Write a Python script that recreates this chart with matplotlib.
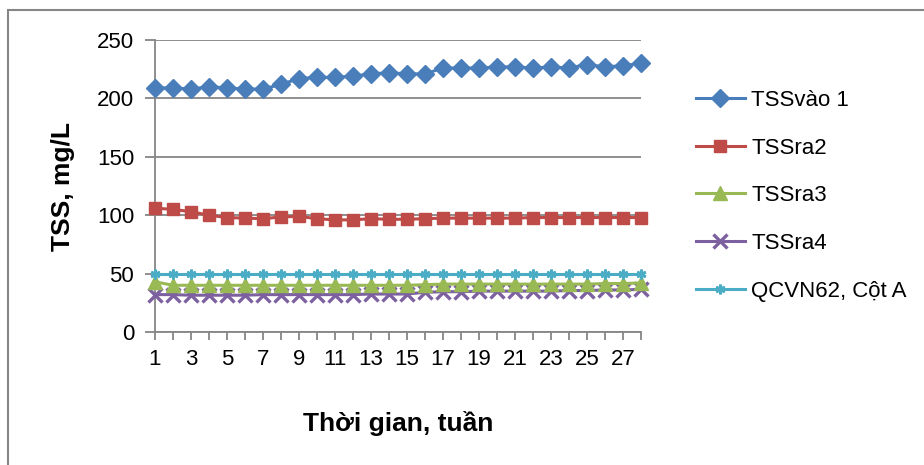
import matplotlib
matplotlib.use("Agg")
import matplotlib.pyplot as plt
from matplotlib.patches import Rectangle

plt.rcParams['font.family'] = ['Liberation Sans', 'DejaVu Sans']

weeks = list(range(1, 29))
tss_in = [209, 209, 208, 210, 209, 208, 208, 212, 217, 218, 218, 219, 221, 222,
          221, 221, 226, 226, 226, 227, 227, 226, 227, 226, 229, 227, 228, 230]
tss_out2 = [106, 105, 103, 100, 98, 97.5, 97, 98.5, 99, 97, 96, 96, 97, 96.5,
            96.5, 97, 97.5, 97.5, 97.5, 97.5, 97.5, 98, 98, 98, 98, 98, 98, 98]
tss_out3 = [43, 40, 40, 40, 40, 40, 40, 40, 40, 40, 40, 40, 40, 40,
            40, 40.5, 41, 41, 41, 41, 41, 41, 41, 41, 41, 41.5, 41.5, 42]
tss_out4 = [32, 32, 31.5, 31.5, 31.5, 31.5, 32, 32, 32, 32, 32, 32, 32.5, 32.5,
            32.5, 34, 34.5, 34.5, 35, 35, 35, 35, 35, 35.5, 35.5, 36, 36, 36.5]
qcvn = [50] * 28

fig = plt.figure(figsize=(9.24, 4.65), dpi=100)
ax = fig.add_axes([155 / 924, 1 - 332 / 465, (641 - 155) / 924, (332 - 40) / 465])

ax.plot(weeks, tss_in, color='#4A7EBB', lw=2.2, marker='D', ms=9, label='TSSvào 1', zorder=5)
ax.plot(weeks, tss_out2, color='#BE4B48', lw=2.2, marker='s', ms=8, label='TSSra2', zorder=5)
ax.plot(weeks, tss_out3, color='#98B954', lw=2.2, marker='^', ms=10.5, label='TSSra3', zorder=4)
ax.plot(weeks, tss_out4, color='#7D60A0', lw=2.2, marker='x', ms=9.5, mew=2.4, label='TSSra4', zorder=3)
ax.plot(weeks, qcvn, color='#4BACC6', lw=2.2, marker=(6, 2, 0), ms=7, mew=2,
        label='QCVN62, Cột A', zorder=6)

ax.set_xlim(1, 28)
ax.set_ylim(0, 250)
ax.set_yticks(range(0, 251, 50))
ax.set_xticks(weeks)
ax.set_xticklabels([str(w) if w % 2 == 1 else '' for w in weeks])
ax.yaxis.grid(True, color='#868686', lw=1.3)
ax.set_axisbelow(True)
for side in ['top', 'right']:
    ax.spines[side].set_visible(False)
for side in ['left', 'bottom']:
    ax.spines[side].set_color('#868686')
    ax.spines[side].set_linewidth(1.3)
ax.tick_params(axis='y', length=7, width=1.3, color='#868686', labelsize=16, pad=8)
ax.tick_params(axis='x', length=6, width=1.3, color='#868686', labelsize=16, pad=6)
for line in ax.lines:
    line.set_clip_on(False)

ax.set_xlabel('Thời gian, tuần', fontsize=19, fontweight='bold', labelpad=30)
ax.set_ylabel('TSS, mg/L', fontsize=19, fontweight='bold', labelpad=16)

fig.legend(loc='upper left', bbox_to_anchor=(687 / 924, 1 - 81 / 465), frameon=False,
           fontsize=16, handlelength=2.2, handletextpad=0.3, labelspacing=1.2,
           borderaxespad=0)

fig.patches.append(Rectangle((8 / 924, -0.01), 1.0, 1 - 10 / 465 + 0.01,
                             transform=fig.transFigure, fill=False,
                             edgecolor='#868686', lw=1.5))

fig.savefig('out.png', dpi=100)
